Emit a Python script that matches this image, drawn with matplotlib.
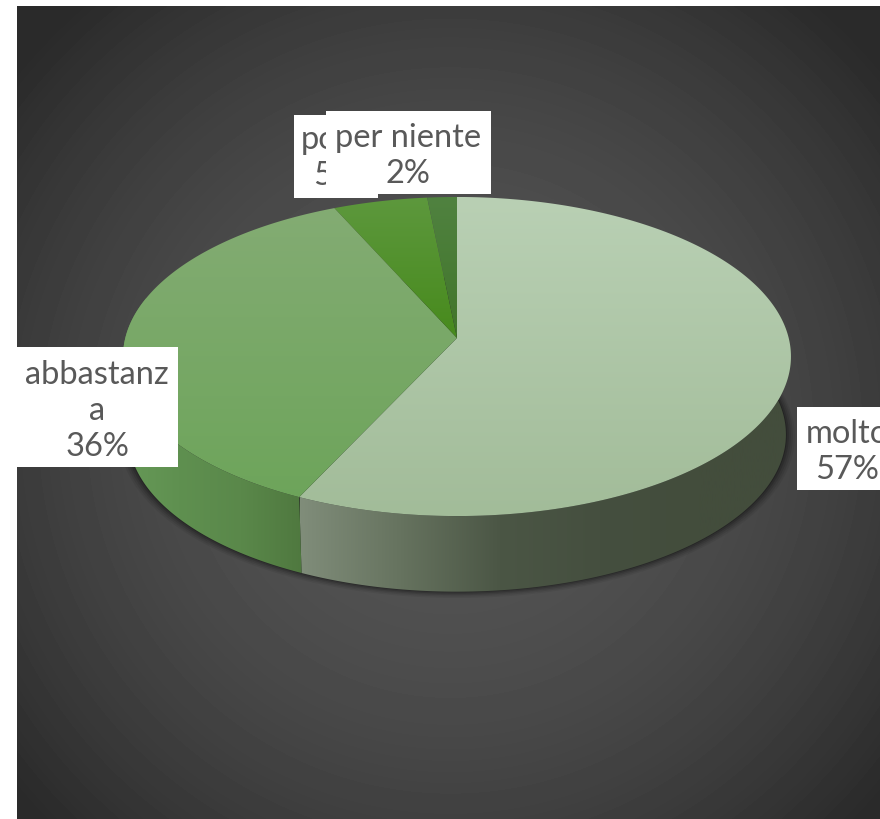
import numpy as np
import matplotlib
matplotlib.use('Agg')
import matplotlib.pyplot as plt
from matplotlib.colors import LinearSegmentedColormap
from matplotlib.patches import Polygon, Rectangle

categories = ['molto', 'abbastanza', 'poco', 'per niente']
values = [57.0, 36.3, 5.1, 1.6]
percent_labels = ['57%', '36%', '5%', '2%']

# pixel layout
W, H = 880, 819
APEX_X, APEX_Y = 457, 338
A, B, K = 331.7, 157.4, 0.116
DEPTH = 78
ELL_Y = 357

top_colors = [('#b9d0b4', '#a2bc99'), ('#84ac74', '#6ca459'), ('#5d983d', '#478a1c'), ('#508240', '#41752a')]
side_colors = [['#808d7a', '#66735f', '#4b5645', '#454f3f', '#434d3c'],
               ['#679a58', '#5f9050', '#5a884a', '#4f783f']]
side_ranges = [(300, 640), (137, 304)]

label_names = ['molto', 'abbastanz\na', 'poco', 'per niente']
label_boxes = [(797, 407, 83, 83), (17, 347, 161, 120), (294, 115, 84, 83), (326, 111, 165, 83)]
label_centers = [(847, 452), (97, 411), (336, 158), (408, 156)]


def rim(deg):
    # deg runs clockwise from the top of the pie
    t = np.radians(deg)
    X, Y = np.sin(t), np.cos(t)
    w = 1 + K * Y
    return APEX_X + A * X / w, APEX_Y - B * Y / w


def lower_rim(deg):
    x, y = rim(deg)
    return APEX_X + (x - APEX_X) * 0.985, ELL_Y + DEPTH + (y - ELL_Y) * 0.985


def gradient(ax, colors, extent, clip, horizontal=False):
    cmap = LinearSegmentedColormap.from_list('g', colors)
    g = np.linspace(0, 1, 256)
    arr = g[None, :] if horizontal else g[:, None]
    im = ax.imshow(arr, cmap=cmap, extent=extent, aspect='auto', zorder=clip.get_zorder(), origin='upper')
    ax.add_patch(clip)
    clip.set_visible(False)
    im.set_clip_path(clip)


fig = plt.figure(figsize=(W / 100, H / 100), dpi=100)
ax = fig.add_axes([0, 0, 1, 1])
ax.axis('off')

# panel background
yy, xx = np.mgrid[6:819, 17:880]
r2 = ((xx - 450) / 520) ** 2 + ((yy - 430) / 520) ** 2
shade = np.clip(0.33 - 0.14 * r2, 0.165, 1)
ax.imshow(shade, cmap='gray', vmin=0, vmax=1, extent=(17, 880, 819, 6), aspect='auto', zorder=0)

# soft shadow under the pie
ring = np.linspace(0, 360, 361)
sx, sy = lower_rim(ring)
for grow, alpha in zip([9, 7, 5, 3, 1], [0.06, 0.08, 0.1, 0.14, 0.2]):
    f = 1 + grow / 334
    ax.add_patch(Polygon(np.c_[APEX_X + (sx - APEX_X) * f, sy + grow * 0.2 + (sy - sy.mean()) * (f - 1)],
                         closed=True, fc='black', ec='none', alpha=alpha, zorder=1))

# slice angles from the values
edges = np.concatenate([[0], np.cumsum(values)]) / sum(values) * 360

# front walls of the two big slices
wall_spans = [(78, edges[1]), (edges[1], 285)]
for i, (a0, a1) in enumerate(wall_spans):
    d = np.linspace(a0, a1, 200)
    tx, ty = rim(d)
    bx, by = lower_rim(d)
    pts = np.r_[np.c_[tx, ty], np.c_[bx, by][::-1]]
    x0, x1 = side_ranges[i]
    cols = side_colors[i]
    clip = Polygon(pts, closed=True, zorder=2)
    if i == 0:
        gradient(ax, cols + [cols[-1]], (x0, 800, 819, 0), clip, horizontal=True)
    else:
        gradient(ax, cols, (x0 - 20, x1, 819, 0), clip, horizontal=True)

# top faces
for i in range(len(values)):
    d = np.linspace(edges[i], edges[i + 1], 300)
    x, y = rim(d)
    pts = np.r_[[[APEX_X, APEX_Y]], np.c_[x, y]]
    clip = Polygon(pts, closed=True, zorder=3)
    y0, y1 = (197, 516) if i < 2 else (197, 338)
    gradient(ax, top_colors[i], (100, 800, y1, y0), clip)

# labels
for i in [0, 1, 2, 3]:
    bx, by, bw, bh = label_boxes[i]
    ax.add_patch(Rectangle((bx, by), bw, bh, fc='white', ec='none', zorder=4 + i))
    ax.text(label_centers[i][0], label_centers[i][1], label_names[i] + '\n' + percent_labels[i],
            ha='center', va='center', fontsize=23.5, family='Lato', color='#595959',
            linespacing=1.27, zorder=4 + i, clip_on=True)

ax.set_xlim(0, W)
ax.set_ylim(H, 0)
fig.savefig('out.png', dpi=100, facecolor='white')
